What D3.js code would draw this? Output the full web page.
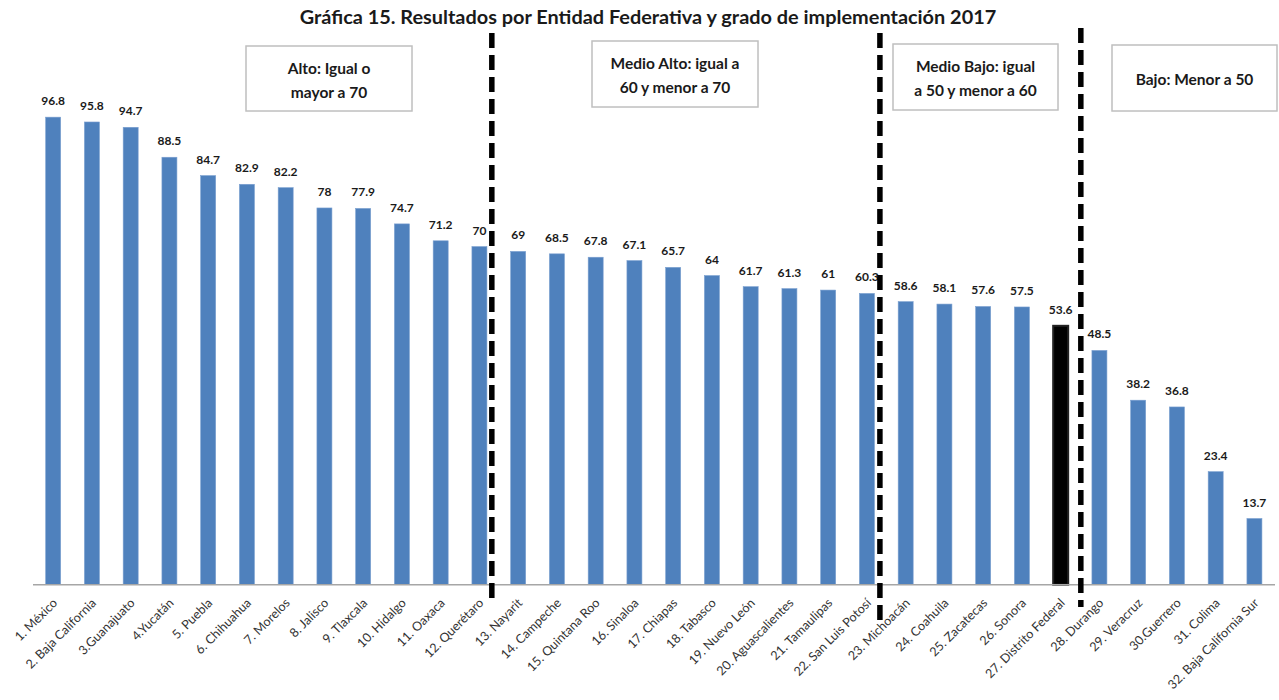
<!DOCTYPE html>
<html lang="es">
<head>
<meta charset="utf-8">
<title>Gráfica 15</title>
<script src="https://cdn.jsdelivr.net/npm/d3@7/dist/d3.min.js"></script>
<style>
  html, body { margin: 0; padding: 0; background: #ffffff; }
  svg { display: block; font-family: Lato, "Open Sans", sans-serif; }
</style>
</head>
<body>
<svg id="chart" width="1279" height="700"></svg>
<script>
// Entidades federativas, ordenadas por resultado
const states = [
  "1. México", "2. Baja California", "3.Guanajuato", "4.Yucatán", "5. Puebla",
  "6. Chihuahua", "7. Morelos", "8. Jalisco", "9. Tlaxcala", "10. Hidalgo",
  "11. Oaxaca", "12. Querétaro", "13. Nayarit", "14. Campeche", "15. Quintana Roo",
  "16. Sinaloa", "17. Chiapas", "18. Tabasco", "19. Nuevo León", "20. Aguascalientes",
  "21. Tamaulipas", "22. San Luis Potosí", "23. Michoacán", "24. Coahuila",
  "25. Zacatecas", "26. Sonora", "27. Distrito Federal", "28. Durango",
  "29. Veracruz", "30.Guerrero", "31. Colima", "32. Baja California Sur"
];
// Resultado por entidad (2017)
const scores = [
  96.8, 95.8, 94.7, 88.5, 84.7, 82.9, 82.2, 78, 77.9, 74.7, 71.2, 70,
  69, 68.5, 67.8, 67.1, 65.7, 64, 61.7, 61.3, 61, 60.3,
  58.6, 58.1, 57.6, 57.5, 53.6,
  48.5, 38.2, 36.8, 23.4, 13.7
];
// Entidad resaltada
const highlighted = ["27. Distrito Federal"];
// Grados de implementación (texto de cada recuadro)
const levelLabels = [
  ["Alto: Igual o", "mayor a 70"],
  ["Medio Alto: igual a", "60 y menor a 70"],
  ["Medio Bajo: igual", "a 50 y menor a 60"],
  ["Bajo: Menor a 50"]
];
// Última entidad de cada grado (separadores)
const levelEnds = ["12. Querétaro", "22. San Luis Potosí", "27. Distrito Federal"];

const titleText = "Gráfica 15. Resultados por Entidad Federativa y grado de implementación 2017";

const data = states.map((s, i) => ({ state: s, value: scores[i] }));

const svg = d3.select("#chart");

const baseY = 584.7;
const x = d3.scaleBand()
  .domain(states)
  .range([33.8, 1273.8])
  .paddingInner(0.613)
  .paddingOuter(0.3065);

const y = d3.scaleLinear()
  .domain([0, 100])
  .range([baseY, 101.7]);

// Título
const title = svg.append("text")
  .attr("x", 648)
  .attr("y", 24)
  .attr("text-anchor", "middle")
  .attr("font-weight", 700)
  .attr("font-size", 17)
  .attr("fill", "#1a1a1a")
  .text(titleText);
const tw = title.node().getComputedTextLength();
title.attr("font-size", 17 * 697 / tw);

// Barras
svg.append("g")
  .selectAll("rect")
  .data(data)
  .join("rect")
  .attr("x", d => x(d.state))
  .attr("y", d => y(d.value))
  .attr("width", x.bandwidth())
  .attr("height", d => y(0) - y(d.value))
  .attr("fill", d => highlighted.includes(d.state) ? "#000000" : "#4f81bd")
  .attr("stroke", d => highlighted.includes(d.state) ? "#222222" : "#7a9fd0")
  .attr("stroke-width", d => highlighted.includes(d.state) ? 2 : 0.6);

// Eje horizontal
const xAxis = svg.append("g")
  .attr("transform", `translate(0,${baseY})`)
  .call(d3.axisBottom(x).tickSize(0).tickSizeOuter(0).tickFormat(""));
xAxis.select(".domain")
  .attr("stroke", "#a6a6a6")
  .attr("stroke-width", 1.6)
  .attr("d", "M33,0H1275");

// Etiquetas de las entidades
svg.append("g")
  .selectAll("text")
  .data(states)
  .join("text")
  .attr("transform", d => `translate(${x(d) + x.bandwidth() / 2 + 5},${baseY + 19}) rotate(-45)`)
  .attr("text-anchor", "end")
  .attr("font-size", 12.6)
  .attr("fill", "#333333")
  .text(d => d);

// Valores sobre las barras
svg.append("g")
  .selectAll("text")
  .data(data)
  .join("text")
  .attr("x", d => x(d.state) + x.bandwidth() / 2)
  .attr("y", d => y(d.value) - 12)
  .attr("text-anchor", "middle")
  .attr("font-weight", 700)
  .attr("font-size", 12)
  .attr("fill", "#1a1a1a")
  .text(d => d3.format("")(d.value));

// Separadores entre grados
const step = x.step();
const sepOffsets = [0.32, 0.335, 0.52];
const sepTops = [33, 33, 28];
const sepBottoms = [604, 622, 607];
svg.append("g")
  .selectAll("line")
  .data(levelEnds)
  .join("line")
  .attr("x1", (d, i) => x(d) + x.bandwidth() / 2 + sepOffsets[i] * step)
  .attr("x2", (d, i) => x(d) + x.bandwidth() / 2 + sepOffsets[i] * step)
  .attr("y1", (d, i) => sepTops[i])
  .attr("y2", (d, i) => sepBottoms[i])
  .attr("stroke", "#000000")
  .attr("stroke-width", 5.5)
  .attr("stroke-dasharray", "15,7");

// Recuadros de cada grado
const boxes = [
  { x0: 246, y0: 46, x1: 412, y1: 111 },
  { x0: 592, y0: 41, x1: 758, y1: 107 },
  { x0: 893, y0: 44, x1: 1058, y1: 110 },
  { x0: 1112, y0: 45, x1: 1277, y1: 111 }
];
const boxG = svg.append("g")
  .selectAll("g")
  .data(levelLabels)
  .join("g");
boxG.append("rect")
  .attr("x", (d, i) => boxes[i].x0)
  .attr("y", (d, i) => boxes[i].y0)
  .attr("width", (d, i) => boxes[i].x1 - boxes[i].x0)
  .attr("height", (d, i) => boxes[i].y1 - boxes[i].y0)
  .attr("fill", "#ffffff")
  .attr("stroke", "#bfbfbf")
  .attr("stroke-width", 1.5);
boxG.each(function (lines, i) {
  const b = boxes[i];
  const cx = (b.x0 + b.x1) / 2;
  const cy = (b.y0 + b.y1) / 2;
  const lh = 24;
  const t = d3.select(this).append("text")
    .attr("text-anchor", "middle")
    .attr("font-weight", 700)
    .attr("font-size", 15.5)
    .attr("fill", "#1a1a1a");
  lines.forEach((ln, k) => {
    t.append("tspan")
      .attr("x", cx)
      .attr("y", cy + 5 + (k - (lines.length - 1) / 2) * lh + 2)
      .text(ln);
  });
});
</script>
</body>
</html>
